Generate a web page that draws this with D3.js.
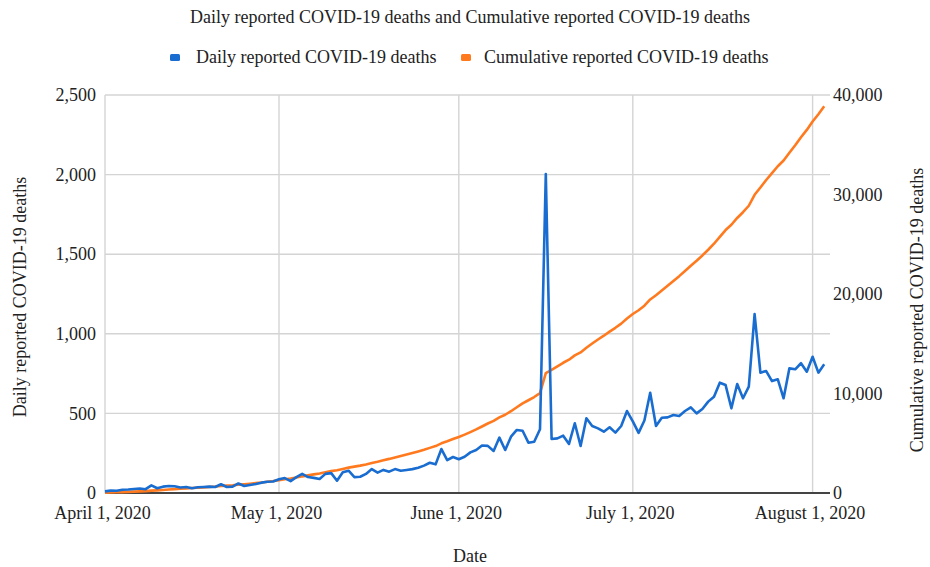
<!DOCTYPE html>
<html>
<head>
<meta charset="utf-8">
<script src="https://cdn.jsdelivr.net/npm/d3@7"></script>
<style>
  html, body { margin: 0; padding: 0; background: #fff; }
  svg { display: block; }
  text { font-family: 'Liberation Serif', 'Times New Roman', serif; fill: #222; }
</style>
</head>
<body>
<svg id="chart" width="930" height="567"></svg>
<script>
// ---------------- DATA ----------------
const startDate = "2020-04-01";
const endDomain = "2020-08-04";

const dailyApril = [10,15,14,20,22,25,28,24,48,30,40,44,42,35,38,30,36,38,40,38,55,38,40,60,44,50,56,65,71,72];
const dailyMay = [86,94,75,100,120,100,95,88,120,125,77,130,140,100,102,120,150,128,145,134,150,140,145,150,159,172,190,180,276,207,226];
const dailyJune = [212,228,255,270,298,296,264,348,270,354,396,391,316,322,400,2003,339,343,360,308,438,295,469,421,406,385,413,379,421,515];
const dailyJuly = [450,378,455,630,421,473,475,490,484,515,538,500,528,574,605,693,678,532,685,595,668,1124,756,766,703,714,595,783,777,815,762];
const dailyAugust = [856,756,808];

const cumApril = [41,56,70,90,112,137,165,189,237,267,307,351,393,428,466,496,532,570,610,648,703,741,781,841,885,935,991,1056,1127,1199];
const cumMay = [1285,1379,1454,1554,1674,1774,1869,1957,2077,2202,2279,2409,2549,2649,2751,2871,3021,3149,3294,3428,3578,3718,3863,4013,4172,4344,4534,4714,4990,5197,5423];
const cumJune = [5635,5863,6118,6388,6686,6982,7246,7594,7864,8218,8614,9005,9321,9643,10043,12046,12385,12728,13088,13396,13834,14129,14598,15019,15425,15810,16223,16602,17023,17538];
const cumJuly = [17988,18366,18821,19451,19872,20345,20820,21310,21794,22309,22847,23347,23875,24449,25054,25747,26425,26957,27642,28220,28870,29970,30710,31460,32150,32840,33420,34190,34950,35750,36490];
const cumAugust = [37330,38070,38860];

const xTickDates = ["2020-04-01","2020-05-01","2020-06-01","2020-07-01","2020-08-01"];
const xTickLabels = ["April 1, 2020","May 1, 2020","June 1, 2020","July 1, 2020","August 1, 2020"];
const leftTicks = [0,500,1000,1500,2000,2500];
const rightTicks = [0,10000,20000,30000,40000];

const titleText = "Daily reported COVID-19 deaths and Cumulative reported COVID-19 deaths";
const seriesNames = ["Daily reported COVID-19 deaths","Cumulative reported COVID-19 deaths"];
const xTitle = "Date";
const leftTitle = "Daily reported COVID-19 deaths";
const rightTitle = "Cumulative reported COVID-19 deaths";

// ---------------- BUILD ----------------
const daily = [].concat(dailyApril, dailyMay, dailyJune, dailyJuly, dailyAugust);
const cumulative = [].concat(cumApril, cumMay, cumJune, cumJuly, cumAugust);
const parse = d3.utcParse("%Y-%m-%d");
const t0 = parse(startDate);
const dates = daily.map((_, i) => d3.utcDay.offset(t0, i));
const rows = dates.map((d, i) => ({date: d, daily: daily[i], cum: cumulative[i]}));

const colors = {daily: "#1a6dd0", cum: "#ff7a1f"};
const plot = {left: 105, right: 830, top: 95, bottom: 493};
const FS = "18px";

const svg = d3.select("#chart");

const x = d3.scaleUtc().domain([t0, parse(endDomain)]).range([plot.left, plot.right]);
const yL = d3.scaleLinear().domain([0, 2500]).range([plot.bottom, plot.top]);
const yR = d3.scaleLinear().domain([0, 40000]).range([plot.bottom, plot.top]);

// gridlines
const grid = svg.append("g");
grid.selectAll("line.h").data(leftTicks.filter(d => d > 0)).join("line")
  .attr("x1", plot.left).attr("x2", plot.right)
  .attr("y1", d => yL(d)).attr("y2", d => yL(d))
  .attr("stroke", "#d4d4d4").attr("stroke-width", 1.4);
grid.selectAll("line.v").data(xTickDates).join("line")
  .attr("x1", d => x(parse(d))).attr("x2", d => x(parse(d)))
  .attr("y1", plot.top).attr("y2", plot.bottom)
  .attr("stroke", "#d4d4d4").attr("stroke-width", 1.4);

// axes (labels only, via d3 axes)
const fmt = d3.format(",");
const leftAxis = svg.append("g").attr("transform", `translate(${plot.left},0)`)
  .call(d3.axisLeft(yL).tickValues(leftTicks).tickFormat(fmt).tickSize(0).tickPadding(9));
const rightAxis = svg.append("g").attr("transform", `translate(${plot.right},0)`)
  .call(d3.axisRight(yR).tickValues(rightTicks).tickFormat(fmt).tickSize(0).tickPadding(3));
const bottomAxis = svg.append("g").attr("transform", `translate(0,${plot.bottom})`)
  .call(d3.axisBottom(x).tickValues(xTickDates.map(parse))
    .tickFormat((d, i) => xTickLabels[i]).tickSize(0).tickPadding(10));
[leftAxis, rightAxis, bottomAxis].forEach(g => {
  g.select(".domain").remove();
  g.selectAll("text").style("font-family", "'Liberation Serif', 'Times New Roman', serif")
    .style("font-size", FS).attr("fill", "#222");
});
bottomAxis.selectAll("text").attr("dy", "0.9em").attr("dx", -3);

// baseline
svg.append("line").attr("x1", plot.left).attr("x2", plot.right)
  .attr("y1", plot.bottom).attr("y2", plot.bottom)
  .attr("stroke", "#444").attr("stroke-width", 2);

// lines
const lineDaily = d3.line().x(d => x(d.date)).y(d => yL(d.daily));
const lineCum = d3.line().x(d => x(d.date)).y(d => yR(d.cum));
svg.append("path").datum(rows).attr("d", lineCum)
  .attr("fill", "none").attr("stroke", colors.cum).attr("stroke-width", 2.6)
  .attr("stroke-linejoin", "round");
svg.append("path").datum(rows).attr("d", lineDaily)
  .attr("fill", "none").attr("stroke", colors.daily).attr("stroke-width", 2.6)
  .attr("stroke-linejoin", "round");

// title
svg.append("text").attr("x", 470).attr("y", 23).attr("text-anchor", "middle")
  .style("font-size", FS).text(titleText);

// legend
const legend = [
  {name: seriesNames[0], color: colors.daily, sx: 170, tx: 196},
  {name: seriesNames[1], color: colors.cum, sx: 461, tx: 484}
];
const lg = svg.append("g");
lg.selectAll("rect").data(legend).join("rect")
  .attr("x", d => d.sx).attr("y", 54).attr("width", 10).attr("height", 7).attr("rx", 1.5)
  .attr("fill", d => d.color);
lg.selectAll("text").data(legend).join("text")
  .attr("x", d => d.tx).attr("y", 63).style("font-size", FS).text(d => d.name);

// axis titles
svg.append("text").attr("x", 470).attr("y", 562).attr("text-anchor", "middle")
  .style("font-size", FS).text(xTitle);
svg.append("text").attr("transform", "translate(26,297) rotate(-90)").attr("text-anchor", "middle")
  .style("font-size", FS).text(leftTitle);
svg.append("text").attr("transform", "translate(923,310) rotate(-90)").attr("text-anchor", "middle")
  .style("font-size", FS).text(rightTitle);
</script>
</body>
</html>
